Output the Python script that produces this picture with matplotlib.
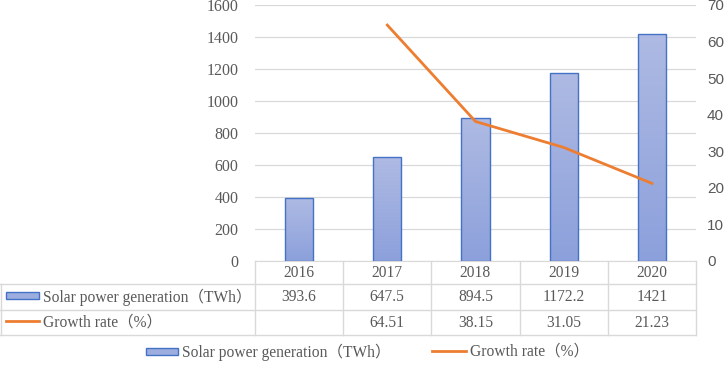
import numpy as np
import matplotlib
matplotlib.use('Agg')
import matplotlib.pyplot as plt
import matplotlib.transforms as mtransforms
from matplotlib.lines import Line2D
from matplotlib.patches import Rectangle

# dados
anos = ['2016', '2017', '2018', '2019', '2020']
geracao = [393.6, 647.5, 894.5, 1172.2, 1421]
crescimento = [np.nan, 64.51, 38.15, 31.05, 21.23]
rotulo_geracao = 'Solar power generation（TWh）'
rotulo_cresc = 'Growth rate（%）'
ticks_esq = [0, 200, 400, 600, 800, 1000, 1200, 1400, 1600]
ticks_dir = [0, 10, 20, 30, 40, 50, 60, 70]

SERIF = ['Liberation Serif', 'Noto Sans CJK SC']
CINZA = '#595959'
GRADE = '#D9D9D9'
AZUL = '#4472C4'
LARANJA = '#ED7D31'

W, H = 726, 367
fig = plt.figure(figsize=(W / 100, H / 100), dpi=100)
ax = fig.add_axes([255 / W, 1 - 261 / H, (696 - 255) / W, (261 - 5) / H])

x = np.arange(len(anos))
barras = ax.bar(x, geracao, width=0.32, facecolor='none', edgecolor=AZUL, linewidth=1, zorder=3)

# gradiente nas barras
grad = np.linspace(0, 1, 256).reshape(-1, 1)
cmap = matplotlib.colors.LinearSegmentedColormap.from_list('g', ['#8CA0DB', '#AEBAE3'])
for b in barras:
    x0, y0 = b.get_x(), b.get_y()
    im = ax.imshow(grad, extent=[x0, x0 + b.get_width(), y0, y0 + b.get_height()],
                   origin='lower', cmap=cmap, aspect='auto', zorder=2)
    im.set_clip_path(b)

ax.set_xlim(-0.5, len(anos) - 0.5)
ax.set_ylim(0, 1600)
ax.set_yticks(ticks_esq)
ax.set_xticks([])
ax.yaxis.grid(True, color=GRADE, linewidth=0.9)
ax.set_axisbelow(True)
for s in ['top', 'left', 'right']:
    ax.spines[s].set_visible(False)
ax.spines['bottom'].set_color(GRADE)
ax.tick_params(axis='y', length=0, pad=12, labelcolor=CINZA)
for t in ax.get_yticklabels():
    t.set_family(SERIF)
    t.set_fontsize(11.5)

ax2 = ax.twinx()
ax2.plot(x, crescimento, color=LARANJA, linewidth=2, zorder=4)
ax2.set_ylim(0, 70)
ax2.set_yticks(ticks_dir)
for s in ax2.spines.values():
    s.set_visible(False)
ax2.tick_params(axis='y', length=0, pad=8, labelcolor=CINZA, labelsize=11)
for t in ax2.get_yticklabels():
    t.set_family('Liberation Sans')

# tabela de dados
tf = fig.transFigure
bt = mtransforms.blended_transform_factory(ax.transData, tf)
fy = lambda p: 1 - p / H
fx = lambda p: p / W

linhas = [284, 310, 335]
for yl in linhas:
    fig.add_artist(Line2D([0, fx(696)], [fy(yl), fy(yl)], color=GRADE, linewidth=1, transform=tf))
fig.add_artist(Line2D([fx(0.5), fx(0.5)], [fy(284), fy(335)], color=GRADE, linewidth=1, transform=tf))
fig.add_artist(Line2D([fx(255), fx(255)], [fy(261), fy(335)], color=GRADE, linewidth=1, transform=tf))
for xe in np.arange(len(anos)) + 0.5:
    fig.add_artist(Line2D([xe, xe], [fy(261), fy(335)], color=GRADE, linewidth=1, transform=bt))

fs_tab = 11.2
for i, ano in enumerate(anos):
    fig.text(i, fy(273), ano, transform=bt, ha='center', va='center', family=SERIF, fontsize=fs_tab, color=CINZA)
    fig.text(i, fy(297), f'{geracao[i]:g}', transform=bt, ha='center', va='center', family=SERIF, fontsize=fs_tab, color=CINZA)
    if not np.isnan(crescimento[i]):
        fig.text(i, fy(323), f'{crescimento[i]:.2f}', transform=bt, ha='center', va='center', family=SERIF, fontsize=fs_tab, color=CINZA)

fig.add_artist(Rectangle((fx(6), fy(299)), fx(33), 7 / H, facecolor='#9DADDF', edgecolor=AZUL, linewidth=1, transform=tf))
fig.text(fx(43), fy(297), rotulo_geracao, ha='left', va='center', family=SERIF, fontsize=fs_tab, color=CINZA)
fig.add_artist(Line2D([fx(6), fx(39)], [fy(321), fy(321)], color=LARANJA, linewidth=2, transform=tf))
fig.text(fx(43), fy(323), rotulo_cresc, ha='left', va='center', family=SERIF, fontsize=fs_tab, color=CINZA)

# legenda
fig.add_artist(Rectangle((fx(146), fy(355)), fx(32), 7 / H, facecolor='#9DADDF', edgecolor=AZUL, linewidth=1, transform=tf))
fig.text(fx(182), fy(352), rotulo_geracao, ha='left', va='center', family=SERIF, fontsize=fs_tab, color=CINZA)
fig.add_artist(Line2D([fx(432), fx(466)], [fy(351), fy(351)], color=LARANJA, linewidth=2, transform=tf))
fig.text(fx(470), fy(352), rotulo_cresc, ha='left', va='center', family=SERIF, fontsize=fs_tab, color=CINZA)

fig.savefig('out.png', dpi=100)
